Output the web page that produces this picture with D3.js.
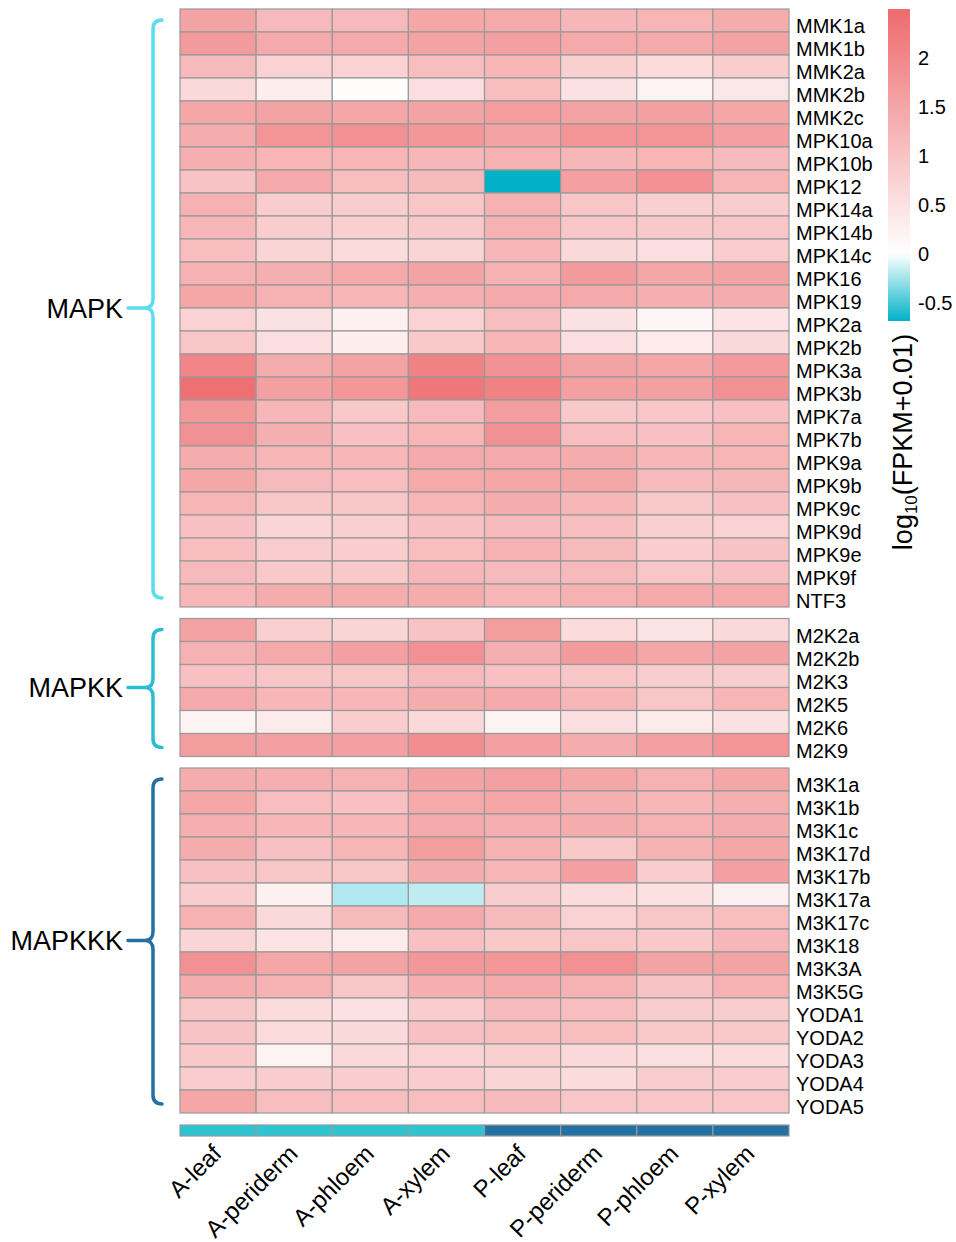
<!DOCTYPE html>
<html>
<head>
<meta charset="utf-8">
<script src="https://cdn.jsdelivr.net/npm/d3@7"></script>
<style>
  html, body { margin: 0; padding: 0; background: #fff; }
  svg { display: block; font-family: "Liberation Sans", Arial, sans-serif; }
</style>
</head>
<body>
<svg id="chart" width="956" height="1242"></svg>
<script>
// Samples (columns) and their source group
const tissues = ["A-leaf", "A-periderm", "A-phloem", "A-xylem", "P-leaf", "P-periderm", "P-phloem", "P-xylem"];
const tissueGroup = ["A", "A", "A", "A", "P", "P", "P", "P"];

// Gene families (row blocks)
const families = ["MAPK", "MAPKK", "MAPKKK"];

const mapkGenes = ["MMK1a", "MMK1b", "MMK2a", "MMK2b", "MMK2c", "MPK10a", "MPK10b", "MPK12", "MPK14a", "MPK14b",
  "MPK14c", "MPK16", "MPK19", "MPK2a", "MPK2b", "MPK3a", "MPK3b", "MPK7a", "MPK7b", "MPK9a",
  "MPK9b", "MPK9c", "MPK9d", "MPK9e", "MPK9f", "NTF3"];
const mapkkGenes = ["M2K2a", "M2K2b", "M2K3", "M2K5", "M2K6", "M2K9"];
const mapkkkGenes = ["M3K1a", "M3K1b", "M3K1c", "M3K17d", "M3K17b", "M3K17a", "M3K17c", "M3K18", "M3K3A", "M3K5G",
  "YODA1", "YODA2", "YODA3", "YODA4", "YODA5"];

// log10(FPKM + 0.01), one row per gene, columns in tissue order
const mapkValues = [
  [1.55, 1.15, 1.15, 1.50, 1.45, 1.20, 1.25, 1.40],
  [1.70, 1.45, 1.45, 1.55, 1.60, 1.45, 1.45, 1.55],
  [1.15, 0.75, 0.75, 1.10, 1.25, 0.80, 0.60, 0.85],
  [0.65, 0.30, 0.05, 0.55, 1.10, 0.50, 0.20, 0.40],
  [1.50, 1.55, 1.50, 1.55, 1.65, 1.55, 1.60, 1.50],
  [1.40, 1.80, 1.85, 1.75, 1.55, 1.80, 1.80, 1.60],
  [1.35, 1.25, 1.25, 1.20, 1.30, 1.20, 1.25, 1.15],
  [1.00, 1.45, 1.10, 1.15, -0.68, 1.60, 1.85, 1.25],
  [1.30, 0.85, 0.85, 0.95, 1.30, 0.95, 0.80, 0.85],
  [1.20, 0.85, 0.80, 0.90, 1.30, 0.95, 0.90, 0.95],
  [1.10, 0.70, 0.60, 0.70, 1.20, 0.65, 0.55, 0.85],
  [1.30, 1.35, 1.45, 1.55, 1.30, 1.70, 1.50, 1.55],
  [1.50, 1.30, 1.25, 1.35, 1.45, 1.45, 1.35, 1.40],
  [0.75, 0.50, 0.25, 0.75, 1.10, 0.50, 0.15, 0.45],
  [0.95, 0.55, 0.30, 0.90, 1.25, 0.55, 0.35, 0.65],
  [2.05, 1.40, 1.55, 2.10, 1.85, 1.55, 1.50, 1.70],
  [2.40, 1.60, 1.75, 2.30, 2.10, 1.60, 1.60, 1.85],
  [1.75, 1.20, 0.90, 1.15, 1.65, 0.90, 0.95, 1.05],
  [1.85, 1.35, 1.05, 1.25, 1.85, 1.10, 1.05, 1.25],
  [1.40, 1.25, 1.20, 1.45, 1.45, 1.40, 1.20, 1.25],
  [1.50, 1.15, 1.10, 1.45, 1.50, 1.50, 1.15, 1.20],
  [1.25, 0.95, 0.95, 1.25, 1.40, 1.20, 0.90, 1.05],
  [1.05, 0.70, 0.80, 1.05, 1.15, 1.10, 0.80, 0.75],
  [1.10, 0.85, 0.85, 1.10, 1.30, 1.15, 0.85, 1.00],
  [1.15, 0.90, 0.90, 1.20, 1.15, 1.15, 0.95, 1.05],
  [1.20, 1.40, 1.40, 1.40, 1.20, 1.30, 1.45, 1.45]
];
const mapkkValues = [
  [1.55, 0.80, 0.70, 1.00, 1.65, 0.60, 0.45, 0.65],
  [1.30, 1.45, 1.60, 1.85, 1.35, 1.70, 1.50, 1.55],
  [1.05, 0.95, 0.95, 1.15, 1.05, 0.95, 0.85, 0.85],
  [1.45, 1.20, 1.20, 1.40, 1.45, 1.20, 0.95, 1.25],
  [0.20, 0.35, 0.85, 0.65, 0.20, 0.55, 0.35, 0.50],
  [1.65, 1.60, 1.60, 1.90, 1.60, 1.40, 1.60, 1.80]
];
const mapkkkValues = [
  [1.40, 1.35, 1.30, 1.55, 1.60, 1.50, 1.30, 1.50],
  [1.50, 1.10, 1.05, 1.45, 1.50, 1.35, 1.20, 1.35],
  [1.35, 1.20, 1.20, 1.45, 1.35, 1.40, 1.30, 1.40],
  [1.40, 1.05, 1.25, 1.65, 1.30, 0.90, 1.30, 1.50],
  [1.05, 0.95, 0.95, 1.40, 1.25, 1.60, 0.85, 1.60],
  [0.85, 0.25, -0.21, -0.17, 0.85, 0.60, 0.50, 0.25],
  [1.30, 0.65, 1.15, 1.45, 1.15, 0.75, 0.95, 1.10],
  [0.70, 0.45, 0.35, 1.05, 0.90, 0.95, 0.90, 1.20],
  [1.85, 1.50, 1.55, 1.75, 1.75, 1.85, 1.55, 1.55],
  [1.40, 1.30, 0.95, 1.35, 1.45, 1.30, 1.00, 1.30],
  [0.95, 0.60, 0.50, 0.85, 1.15, 1.10, 0.85, 0.85],
  [1.00, 0.60, 0.65, 1.05, 1.10, 1.10, 0.90, 0.90],
  [0.90, 0.20, 0.65, 0.75, 0.80, 0.65, 0.55, 0.60],
  [0.85, 0.85, 0.85, 0.85, 0.70, 0.60, 0.85, 0.85],
  [1.50, 1.10, 1.10, 1.10, 1.15, 0.95, 0.95, 0.95]
];

// Legend ticks
const legendTicks = [-0.5, 0, 0.5, 1, 1.5, 2];
const legendTickLabels = ["-0.5", "0", "0.5", "1", "1.5", "2"];
const legendTitle = "log";
const legendTitleSub = "10";
const legendTitleRest = "(FPKM+0.01)";

// ---- styling ----
const familyColor = { MAPK: "#5DDCF0", MAPKK: "#2BBED3", MAPKKK: "#2570A3" };
const groupColor = { A: "#2BC4D2", P: "#2370A2" };
const borderColor = "#999999";

const svg = d3.select("#chart");

const gridLeft = 180, gridRight = 789;
const rowH = 23, gap = 11.5;

const x = d3.scaleBand().domain(tissues).range([gridLeft, gridRight]);

// value range shown by the colour key
const vMin = -0.684, vMax = 2.5;
const color = d3.scaleLinear()
  .domain([vMin, 0, vMax])
  .range(["#00B2C7", "#FFFFFF", "#EE6A6D"])
  .interpolate(d3.interpolateRgb);

const blocks = [
  { name: "MAPK", genes: mapkGenes, values: mapkValues },
  { name: "MAPKK", genes: mapkkGenes, values: mapkkValues },
  { name: "MAPKKK", genes: mapkkkGenes, values: mapkkkValues }
];

let yCursor = 9;
blocks.forEach(b => {
  const h = b.genes.length * rowH;
  b.y = d3.scaleBand().domain(b.genes).range([yCursor, yCursor + h]);
  b.top = yCursor; b.bottom = yCursor + h;
  yCursor += h + gap;
});

const heat = svg.append("g");
blocks.forEach(b => {
  const g = heat.append("g");
  const cells = [];
  b.genes.forEach((gene, i) => tissues.forEach((t, j) => cells.push({ gene, t, v: b.values[i][j] })));
  g.selectAll("rect").data(cells).join("rect")
    .attr("x", d => x(d.t))
    .attr("y", d => b.y(d.gene))
    .attr("width", x.bandwidth())
    .attr("height", b.y.bandwidth())
    .attr("fill", d => color(d.v))
    .attr("stroke", borderColor)
    .attr("stroke-width", 1.2);

  // gene names on the right
  g.selectAll("text").data(b.genes).join("text")
    .attr("x", gridRight + 7)
    .attr("y", d => b.y(d) + b.y.bandwidth() + 1)
    .attr("font-size", 20)
    .attr("fill", "#000")
    .text(d => d);

  // curly bracket with family name on the left
  const bx = 153, y1 = b.top + 11, y2 = b.bottom - 9, ym = (b.top + b.bottom) / 2, r = 9;
  const p = d3.path();
  p.moveTo(bx + r, y1);
  p.quadraticCurveTo(bx, y1, bx, y1 + r);
  p.lineTo(bx, ym - r);
  p.quadraticCurveTo(bx, ym, bx - 8, ym);
  p.quadraticCurveTo(bx, ym, bx, ym + r);
  p.lineTo(bx, y2 - r);
  p.quadraticCurveTo(bx, y2, bx + r, y2);
  p.moveTo(bx - 8, ym);
  p.lineTo(bx - 25, ym);
  svg.append("path")
    .attr("d", p.toString())
    .attr("fill", "none")
    .attr("stroke", familyColor[b.name])
    .attr("stroke-width", 3.5)
    .attr("stroke-linecap", "round");
  svg.append("text")
    .attr("x", bx - 30)
    .attr("y", ym)
    .attr("dy", "0.36em")
    .attr("text-anchor", "end")
    .attr("font-size", 27)
    .attr("fill", "#000")
    .text(b.name);
});

// sample group annotation bar
const annTop = 1125, annH = 11;
svg.append("g").selectAll("rect").data(tissues).join("rect")
  .attr("x", d => x(d))
  .attr("y", annTop)
  .attr("width", x.bandwidth())
  .attr("height", annH)
  .attr("fill", (d, i) => groupColor[tissueGroup[i]])
  .attr("stroke", borderColor)
  .attr("stroke-width", 1.2);

// column labels, rotated
svg.append("g").selectAll("text").data(tissues).join("text")
  .attr("transform", d => `translate(${x(d) + x.bandwidth() / 2 + 5},${1155}) rotate(-45)`)
  .attr("text-anchor", "end")
  .attr("font-size", 24)
  .attr("fill", "#000")
  .text(d => d);

// colour key
const legX = 888, legW = 22, legTop = 9, legBottom = 321;
const legY = d3.scaleLinear().domain([vMin, vMax]).range([legBottom, legTop]);
const defs = svg.append("defs");
const grad = defs.append("linearGradient")
  .attr("id", "keyGrad").attr("x1", 0).attr("y1", 1).attr("x2", 0).attr("y2", 0);
d3.range(0, 1.0001, 0.02).forEach(t => {
  const v = vMin + t * (vMax - vMin);
  grad.append("stop").attr("offset", t).attr("stop-color", color(v));
});
svg.append("rect")
  .attr("x", legX).attr("y", legTop)
  .attr("width", legW).attr("height", legBottom - legTop)
  .attr("fill", "url(#keyGrad)");

svg.append("g").selectAll("text").data(legendTicks).join("text")
  .attr("x", legX + legW + 8)
  .attr("y", d => legY(d))
  .attr("dy", "0.36em")
  .attr("font-size", 20)
  .attr("fill", "#000")
  .text((d, i) => legendTickLabels[i]);

const title = svg.append("text")
  .attr("transform", "translate(912,442) rotate(-90)")
  .attr("text-anchor", "middle")
  .attr("font-size", 27)
  .attr("fill", "#000");
title.append("tspan").text(legendTitle);
title.append("tspan").attr("font-size", 17).attr("dy", 5).text(legendTitleSub);
title.append("tspan").attr("dy", -5).text(legendTitleRest);
</script>
</body>
</html>
